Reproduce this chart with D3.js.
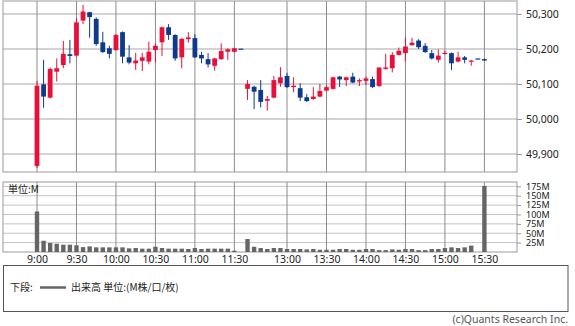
<!DOCTYPE html>
<html>
<head>
<meta charset="utf-8">
<script src="https://cdn.jsdelivr.net/npm/d3@7"></script>
<style>
  body { margin: 0; background: #fff; }
  svg { display: block; }
  text { font-family: "Noto Sans CJK JP", "Noto Sans", sans-serif; }
</style>
</head>
<body>
<svg id="chart" width="575" height="326"></svg>
<script>
// 5-minute bars, one per slot (slot 0 = 9:00, slot 32 = 12:30, slot 68 = 15:30)
var opens = [49866,50099,50061,50135,50154,50185,50181,50281,50305,50286,
             50219,50202,50197,50248,50176,50159,50166,50164,50197,50219,
             50262,50240,50176,50228,50231,50183,50171,50152,50171,50192,
             50192,50201,50086,50092,50083,50052,50061,50102,50123,50091,
             50088,50062,50057,50064,50081,50086,50121,50111,50121,50107,
             50109,50114,50094,50143,50145,50183,50188,50211,50224,50209,
             50188,50169,50186,50188,50164,50176,50166,50173,50171];
var highs = [50109,50169,50147,50173,50223,50226,50288,50326,50306,50290,
             50249,50209,50242,50250,50211,50189,50189,50221,50216,50264,
             50271,50242,50231,50248,50242,50192,50188,50175,50216,50202,
             50204,50201,50111,50095,50111,50066,50123,50148,50132,50119,
             50102,50071,50091,50100,50097,50121,50123,50121,50132,50116,
             50121,50121,50147,50186,50191,50204,50233,50232,50228,50217,
             50197,50199,50195,50190,50192,50180,50169,50173,50172];
var lows = [49860,50032,50058,50107,50145,50159,50178,50271,50232,50209,
            50189,50173,50195,50159,50156,50140,50137,50156,50161,50180,
            50226,50166,50145,50218,50174,50159,50147,50138,50169,50169,
            50190,50201,50054,50028,50033,50024,50059,50092,50089,50076,
            50051,50049,50055,50062,50079,50084,50091,50094,50102,50094,
            50097,50089,50092,50141,50133,50181,50164,50209,50200,50189,
            50170,50161,50184,50140,50162,50159,50152,50173,50166];
var closes = [50095,50064,50143,50145,50186,50180,50276,50307,50291,50214,
              50191,50186,50240,50178,50161,50167,50176,50192,50209,50262,
              50240,50173,50229,50233,50176,50173,50156,50173,50194,50199,
              50202,50201,50100,50078,50049,50057,50111,50119,50091,50095,
              50061,50051,50064,50080,50091,50119,50113,50119,50104,50111,
              50116,50091,50147,50147,50183,50195,50207,50218,50205,50191,
              50173,50181,50189,50159,50176,50169,50167,50173,50167];
// volume, millions of shares
var volumes = [108,30,24,22,19.5,19.5,18,13,15,12.4,
               12.4,12.4,12.4,12.4,9.7,10.6,8.9,8.9,14,10.6,
               8.9,8.9,8.9,8,10.6,8,8.9,8.9,8.9,8.9,
               3.5,0,34.6,14,10.6,8,10.6,10.6,8,8,
               8,7,8,6,6,6,8,8,6,6,
               8,8,5,5,7,6,8,8,5,5,
               8,8,10.6,12.4,10.6,12.4,17,0,176];

var tickSlots = [0,6,12,18,24,30,38,44,50,56,62,68];
var tickLabels = ["9:00","9:30","10:00","10:30","11:00","11:30","13:00","13:30","14:00","14:30","15:00","15:30"];
var priceTicks = [49900,50000,50100,50200,50300];
var volumeTicks = [25,50,75,100,125,150,175];

var UP = "#e8103b", DOWN = "#0d3a8c";

var svg = d3.select("#chart");
var left = 3, right = 517;
var priceTop = 1, priceBottom = 172;
var volTop = 182, volBottom = 252;

var x = d3.scaleLinear().domain([0, 68]).range([37, 484.4]);
var yPrice = d3.scaleLinear().domain([49848.6, 50337]).range([priceBottom, priceTop]);
var yVol = d3.scaleLinear().domain([0, 186.6]).range([volBottom, volTop]);

var bars = d3.range(opens.length).map(function (i) {
    return { i: i, o: opens[i], h: highs[i], l: lows[i], c: closes[i], v: volumes[i] };
});

// ---- price panel
var pg = svg.append("g");
pg.selectAll(".hgrid").data(priceTicks).enter().append("line")
    .attr("x1", left).attr("x2", right)
    .attr("y1", function (d) { return yPrice(d); })
    .attr("y2", function (d) { return yPrice(d); })
    .style("stroke", "#c4c4c4").style("stroke-width", 1.5);
pg.selectAll(".vgrid").data(tickSlots).enter().append("line")
    .attr("x1", function (d) { return x(d); }).attr("x2", function (d) { return x(d); })
    .attr("y1", priceTop).attr("y2", priceBottom)
    .style("stroke", "#8c8c8c").style("stroke-width", 1);
pg.append("rect")
    .attr("x", left).attr("y", priceTop)
    .attr("width", right - left).attr("height", priceBottom - priceTop)
    .style("fill", "none").style("stroke", "#9a9a9a");

var priceAxis = d3.axisRight(yPrice).tickValues(priceTicks).tickSize(5).tickPadding(4)
    .tickFormat(d3.format(","));
var pa = svg.append("g").attr("transform", "translate(" + right + ",0)").call(priceAxis);
pa.select(".domain").remove();
pa.selectAll("line").style("stroke", "#9a9a9a");
pa.selectAll("text").style("font-size", "10.5px").style("fill", "#222")
    .style("font-family", "'Noto Sans', sans-serif");

var candle = pg.selectAll(".candle").data(bars).enter().append("g");
candle.append("line")
    .attr("x1", function (d) { return x(d.i); }).attr("x2", function (d) { return x(d.i); })
    .attr("y1", function (d) { return yPrice(d.h); }).attr("y2", function (d) { return yPrice(d.l); })
    .style("stroke", function (d) { return d.c > d.o ? UP : DOWN; })
    .style("stroke-width", 1);
candle.append("rect")
    .attr("x", function (d) { return x(d.i) - 2.4; })
    .attr("width", 4.8)
    .attr("y", function (d) { return yPrice(Math.max(d.o, d.c)); })
    .attr("height", function (d) { return Math.max(1.2, Math.abs(yPrice(d.o) - yPrice(d.c))); })
    .style("fill", function (d) { return d.c > d.o ? UP : DOWN; });

// ---- volume panel
var vg = svg.append("g");
vg.selectAll(".hgrid").data(volumeTicks).enter().append("line")
    .attr("x1", left).attr("x2", right)
    .attr("y1", function (d) { return yVol(d); })
    .attr("y2", function (d) { return yVol(d); })
    .style("stroke", "#c4c4c4").style("stroke-width", 1);
vg.selectAll(".vgrid").data(tickSlots).enter().append("line")
    .attr("x1", function (d) { return x(d); }).attr("x2", function (d) { return x(d); })
    .attr("y1", volTop).attr("y2", volBottom)
    .style("stroke", "#8c8c8c").style("stroke-width", 1);
vg.append("rect")
    .attr("x", left).attr("y", volTop)
    .attr("width", right - left).attr("height", volBottom - volTop)
    .style("fill", "none").style("stroke", "#9a9a9a");

vg.selectAll(".vbar").data(bars.filter(function (d) { return d.v > 0; })).enter().append("rect")
    .attr("x", function (d) { return x(d.i) - 2.2; })
    .attr("width", 4.4)
    .attr("y", function (d) { return yVol(d.v); })
    .attr("height", function (d) { return yVol(0) - yVol(d.v); })
    .style("fill", "#666");

vg.append("text").attr("x", 8).attr("y", 192.5)
    .style("font-size", "10px").style("fill", "#222").text("単位:M");

var volAxis = d3.axisRight(yVol).tickValues(volumeTicks).tickSize(4).tickPadding(5)
    .tickFormat(function (d) { return d + "M"; });
var va = svg.append("g").attr("transform", "translate(" + right + ",0)").call(volAxis);
va.select(".domain").remove();
va.selectAll("line").style("stroke", "#9a9a9a");
va.selectAll("text").style("font-size", "9px").style("fill", "#222")
    .style("font-family", "'Noto Sans', sans-serif");

var timeAxis = d3.axisBottom(x).tickValues(tickSlots).tickSize(0).tickPadding(3.5)
    .tickFormat(function (d, i) { return tickLabels[i]; });
var ta = svg.append("g").attr("transform", "translate(0," + volBottom + ")").call(timeAxis);
ta.select(".domain").remove();
ta.selectAll("text").style("font-size", "10.5px").style("fill", "#222")
    .style("font-family", "'Noto Sans', sans-serif");

// ---- legend
var lg = svg.append("g");
lg.append("rect").attr("x", 3.5).attr("y", 265.5).attr("width", 564.5).attr("height", 46)
    .style("fill", "none").style("stroke", "#555");
lg.append("text").attr("x", 10).attr("y", 291).style("font-size", "10px").style("fill", "#222").text("下段:");
lg.append("line").attr("x1", 40).attr("x2", 66).attr("y1", 287.5).attr("y2", 287.5)
    .style("stroke", "#666").style("stroke-width", 2.5);
lg.append("text").attr("x", 71).attr("y", 291).style("font-size", "10px").style("fill", "#222")
    .text("出来高 単位:(M株/口/枚)");

svg.append("text").attr("x", 568).attr("y", 323).attr("text-anchor", "end")
    .style("font-size", "10.5px").style("fill", "#555")
    .style("font-family", "'Noto Sans', sans-serif")
    .text("(c)Quants Research Inc.");
</script>
</body>
</html>
